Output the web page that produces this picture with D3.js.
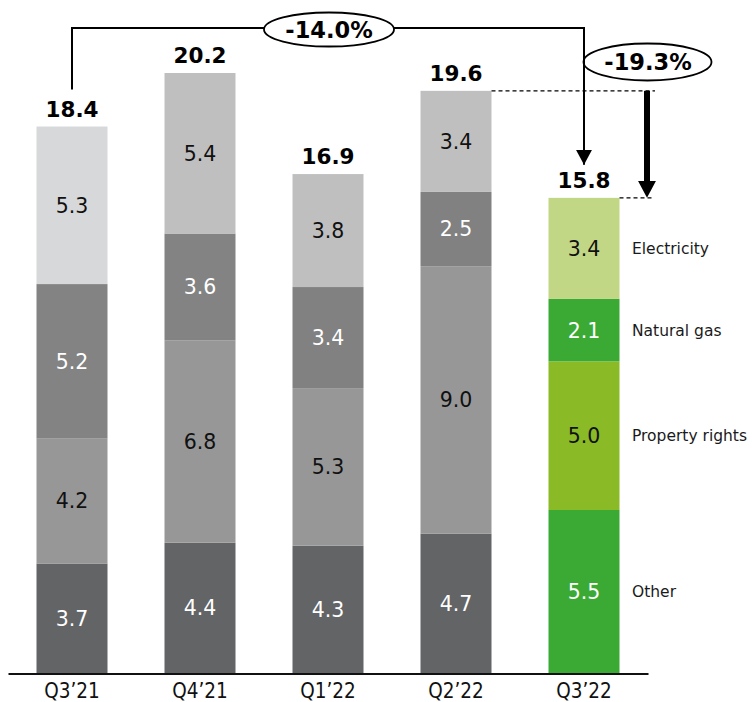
<!DOCTYPE html>
<html>
<head>
<meta charset="utf-8">
<script src="https://cdn.jsdelivr.net/npm/d3@7"></script>
<style>
  html, body { margin: 0; padding: 0; background: #ffffff; }
  svg { display: block; }
</style>
</head>
<body>
<svg id="chart" width="752" height="702"></svg>
<script>
// Quarterly cost breakdown, stacked from the bottom up
const quarters = ["Q3\u201921", "Q4\u201921", "Q1\u201922", "Q2\u201922", "Q3\u201922"];
const seriesNames = ["Other", "Property rights", "Natural gas", "Electricity"];
const other          = [3.7, 4.4, 4.3, 4.7, 5.5];
const propertyRights = [4.2, 6.8, 5.3, 9.0, 5.0];
const naturalGas     = [5.2, 3.6, 3.4, 2.5, 2.1];
const electricity    = [5.3, 5.4, 3.8, 3.4, 3.4];
const totals         = [18.4, 20.2, 16.9, 19.6, 15.8];
const changeYoY = "-14.0%";
const changeQoQ = "-19.3%";

// Segment fills per quarter (grey history, green current quarter)
const fills = {
  "Other":           ["#636466", "#636466", "#636466", "#636466", "#3baa35"],
  "Property rights": ["#979797", "#979797", "#979797", "#979797", "#8abb27"],
  "Natural gas":     ["#838383", "#838383", "#818181", "#818181", "#3baa35"],
  "Electricity":     ["#d7d8da", "#bfbfbf", "#bfbfbf", "#bfbfbf", "#c1d786"]
};
const labelInk = {
  "Other": "#ffffff",
  "Property rights": "#111111",
  "Natural gas": "#ffffff",
  "Electricity": "#111111"
};

const seriesValues = {
  "Other": other,
  "Property rights": propertyRights,
  "Natural gas": naturalGas,
  "Electricity": electricity
};

const rows = quarters.map((q, i) => {
  const r = { quarter: q, index: i };
  seriesNames.forEach(s => { r[s] = seriesValues[s][i]; });
  return r;
});

const svg = d3.select("#chart");
const baseY = 673.5;

const x = d3.scaleBand()
  .domain(quarters)
  .range([8, 648])
  .paddingInner(57 / 128)
  .paddingOuter(28.5 / 128);

const y = d3.scaleLinear()
  .domain([0, 20.2])
  .range([baseY, 73]);

const stacked = d3.stack().keys(seriesNames)(rows);

const valueFont = "'DejaVu Sans', Verdana, sans-serif";

// Bars
const layer = svg.append("g").selectAll("g")
  .data(stacked)
  .join("g");

layer.selectAll("rect")
  .data(d => d.map(p => ({ key: d.key, p })))
  .join("rect")
  .attr("x", d => x(d.p.data.quarter))
  .attr("width", x.bandwidth())
  .attr("y", d => y(d.p[1]))
  .attr("height", d => y(d.p[0]) - y(d.p[1]))
  .attr("fill", d => fills[d.key][d.p.data.index]);

// Segment values
layer.selectAll("text")
  .data(d => d.map(p => ({ key: d.key, p })))
  .join("text")
  .attr("x", d => x(d.p.data.quarter) + x.bandwidth() / 2)
  .attr("y", d => (y(d.p[0]) + y(d.p[1])) / 2)
  .attr("dy", "0.36em")
  .attr("text-anchor", "middle")
  .attr("font-family", valueFont)
  .attr("font-size", 20.5)
  .attr("fill", d => labelInk[d.key])
  .text(d => d.p.data[d.key].toFixed(1));

// Stack tops
const stackTop = rows.map((r, i) => stacked[stacked.length - 1][i][1]);

// Totals above bars
svg.append("g").selectAll("text")
  .data(rows)
  .join("text")
  .attr("x", d => x(d.quarter) + x.bandwidth() / 2)
  .attr("y", d => y(stackTop[d.index]) - 10)
  .attr("text-anchor", "middle")
  .attr("font-family", valueFont)
  .attr("font-weight", "bold")
  .attr("font-size", 21.5)
  .attr("fill", "#000")
  .text(d => totals[d.index].toFixed(1));

// Series names beside the last bar
const last = rows.length - 1;
svg.append("g").selectAll("text")
  .data(stacked)
  .join("text")
  .attr("x", 632)
  .attr("y", d => (y(d[last][0]) + y(d[last][1])) / 2)
  .attr("dy", "0.36em")
  .attr("font-family", valueFont)
  .attr("font-size", 15.5)
  .attr("fill", "#1a1a1a")
  .text(d => d.key);

// Category axis
const axis = svg.append("g")
  .attr("transform", `translate(0,${baseY})`)
  .call(d3.axisBottom(x).tickSize(0).tickPadding(10));
axis.select(".domain").attr("stroke", "#111").attr("stroke-width", 2);
axis.selectAll(".tick text")
  .attr("font-family", "'DejaVu Sans Condensed', 'DejaVu Sans', sans-serif")
  .attr("font-size", 20.5)
  .attr("fill", "#111");

// Arrowheads (reference point at the tip)
const defs = svg.append("defs");
defs.append("marker")
  .attr("id", "headThin")
  .attr("viewBox", "0 0 16 15")
  .attr("refX", 8).attr("refY", 15)
  .attr("markerWidth", 16).attr("markerHeight", 15)
  .attr("markerUnits", "userSpaceOnUse")
  .attr("orient", "0")
  .append("path").attr("d", "M0,0 L16,0 L8,15 Z").attr("fill", "#000");
defs.append("marker")
  .attr("id", "headThick")
  .attr("viewBox", "0 0 18 17")
  .attr("refX", 9).attr("refY", 3)
  .attr("markerWidth", 18).attr("markerHeight", 17)
  .attr("markerUnits", "userSpaceOnUse")
  .attr("orient", "0")
  .append("path").attr("d", "M0,0 L18,0 L9,17 Z").attr("fill", "#000");

const ann = svg.append("g");
const cx0 = x(quarters[0]) + x.bandwidth() / 2;
const cxN = x(quarters[last]) + x.bandwidth() / 2;
const bracketY = 28;

// Year-on-year bracket from the first to the last quarter
ann.append("path")
  .attr("d", `M${cx0},${y(stackTop[0]) - 37} V${bracketY} H${cxN} V${y(stackTop[last]) - 33}`)
  .attr("fill", "none")
  .attr("stroke", "#000")
  .attr("stroke-width", 2)
  .attr("marker-end", "url(#headThin)");

ann.append("ellipse")
  .attr("cx", 329).attr("cy", bracketY + 1.5)
  .attr("rx", 65).attr("ry", 17)
  .attr("fill", "#fff").attr("stroke", "#000").attr("stroke-width", 1.8);
ann.append("text")
  .attr("x", 329).attr("y", bracketY + 1.5).attr("dy", "0.36em")
  .attr("text-anchor", "middle")
  .attr("font-family", valueFont).attr("font-weight", "bold").attr("font-size", 22.5)
  .text(changeYoY);

// Quarter-on-quarter drop from the previous quarter
const prev = last - 1;
const arrowX = 647;
ann.append("line")
  .attr("x1", x(quarters[prev]) + x.bandwidth()).attr("x2", 655)
  .attr("y1", y(stackTop[prev])).attr("y2", y(stackTop[prev]))
  .attr("stroke", "#000").attr("stroke-width", 1.2).attr("stroke-dasharray", "4,3");
ann.append("line")
  .attr("x1", x(quarters[last]) + x.bandwidth()).attr("x2", 653)
  .attr("y1", y(stackTop[last])).attr("y2", y(stackTop[last]))
  .attr("stroke", "#000").attr("stroke-width", 1.2).attr("stroke-dasharray", "4,3");
ann.append("line")
  .attr("x1", arrowX).attr("x2", arrowX)
  .attr("y1", y(stackTop[prev])).attr("y2", y(stackTop[last]) - 14)
  .attr("stroke", "#000").attr("stroke-width", 6)
  .attr("marker-end", "url(#headThick)");

ann.append("ellipse")
  .attr("cx", 647.5).attr("cy", 62)
  .attr("rx", 64).attr("ry", 18.5)
  .attr("fill", "none").attr("stroke", "#000").attr("stroke-width", 1.8);
ann.append("text")
  .attr("x", 648).attr("y", 62).attr("dy", "0.36em")
  .attr("text-anchor", "middle")
  .attr("font-family", valueFont).attr("font-weight", "bold").attr("font-size", 22.5)
  .text(changeQoQ);
</script>
</body>
</html>
